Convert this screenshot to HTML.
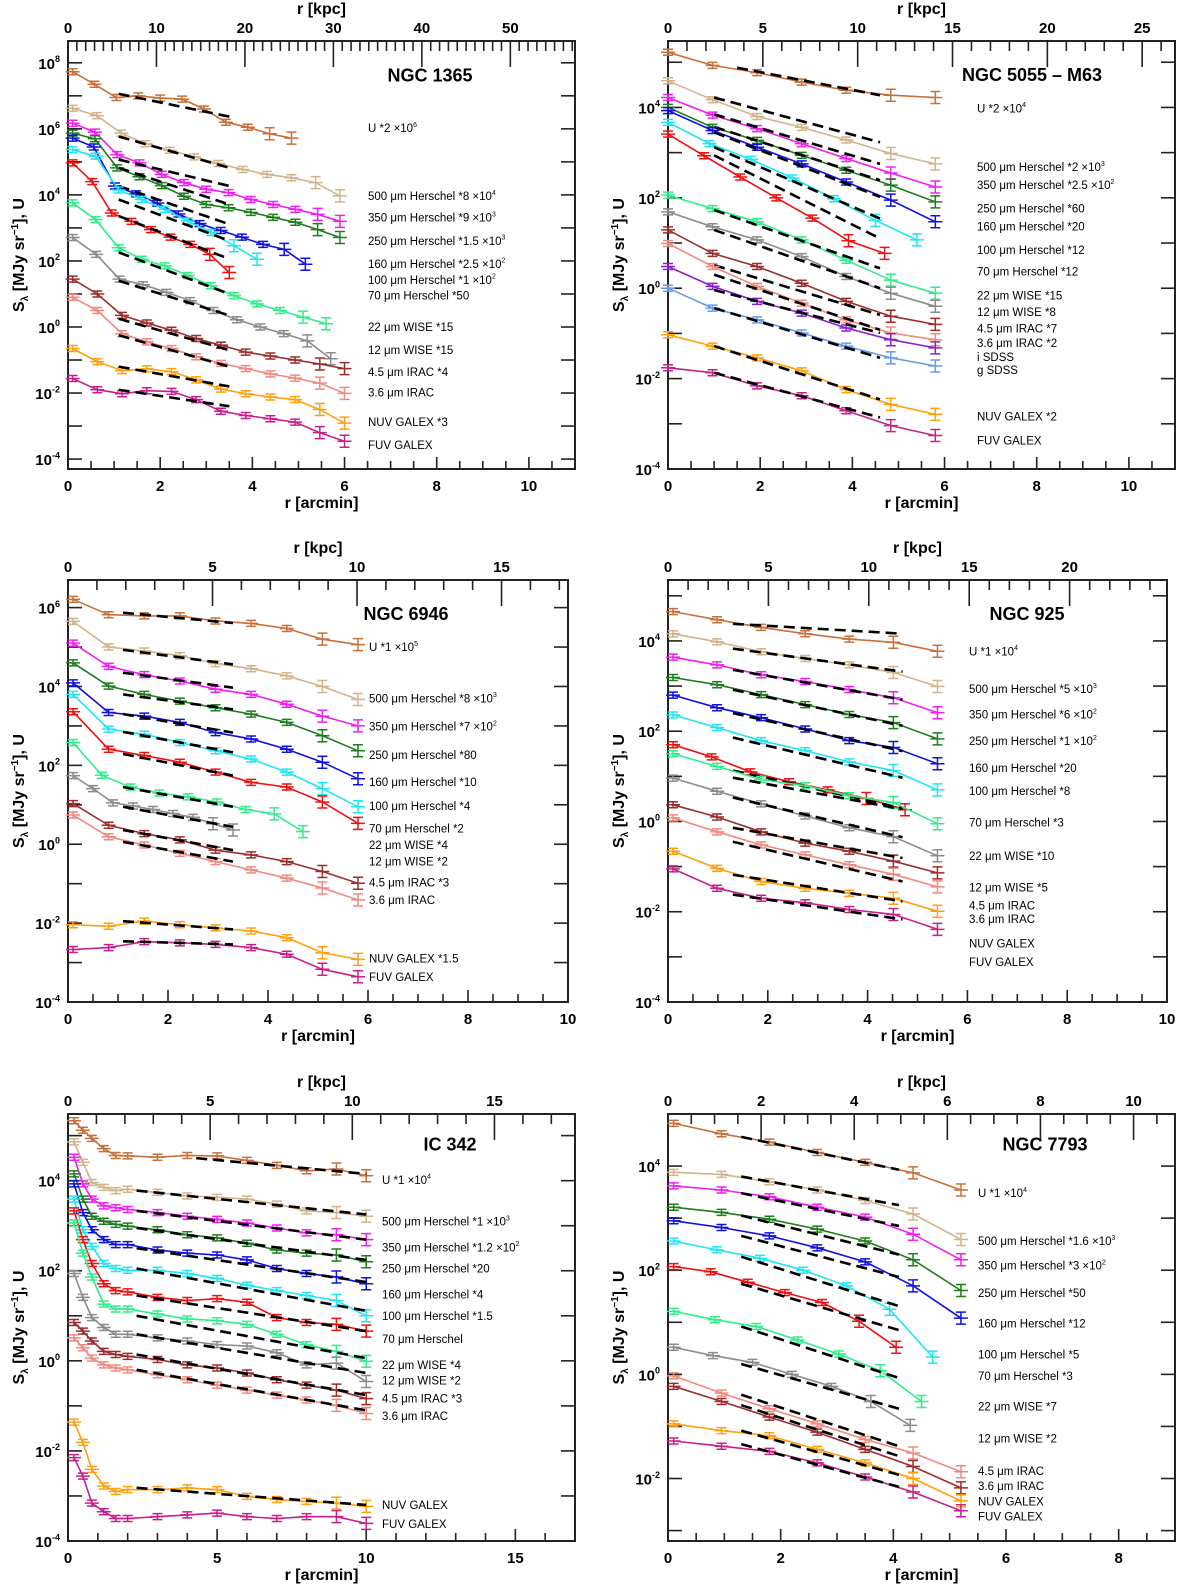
<!DOCTYPE html>
<html><head><meta charset="utf-8"><title>Radial profiles</title>
<style>
html,body{margin:0;padding:0;background:#fff;}
svg{display:block;font-family:"Liberation Sans",Arial,sans-serif;}
</style></head>
<body>
<svg id="fig" xmlns="http://www.w3.org/2000/svg" width="1200" height="1594" viewBox="0 0 1200 1594"></svg>
<script>
const COL={U:'#c8703a',B500:'#d2b48c',B350:'#f01ef0',B250:'#1e7d1e',B160:'#1010e0',B100:'#20e6f0',B70:'#f01010',B22:'#30ee8a',B12:'#8c8c8c',I45:'#9b2d2d',I36:'#f08a80',iS:'#8a20d0',gS:'#6a9ae8',NUV:'#ffa010',FUV:'#c8208a'};

/* ---------- NGC 1365 ---------- */
const P1_bands=['U','B500','B350','B250','B160','B100','B70','B22','B12','I45','I36','NUV','FUV'];
const P1_span=[[0.1,4.85],[0.1,5.9],[0.1,5.9],[0.1,5.9],[0.1,5.15],[0.1,4.1],[0.1,3.5],[0.1,5.6],[0.1,5.7],[0.1,6],[0.1,6],[0.1,6],[0.1,6]];
const P1_logS=[[7.73,7.35,6.95,7.0,6.93,6.9,6.6,6.2,6.05,5.85,5.72],[6.62,6.4,5.87,5.55,5.35,5.15,4.95,4.77,4.62,4.52,4.37,3.97],[6.17,5.9,5.22,4.97,4.62,4.37,4.17,4.07,3.86,3.71,3.56,3.41,3.2],[5.87,5.7,4.82,4.55,4.28,3.96,3.71,3.61,3.47,3.32,3.17,2.95,2.71],[5.72,5.45,4.27,4.03,3.75,3.42,3.13,2.92,2.72,2.5,2.35,1.9],[5.37,5.17,4.15,3.86,3.56,3.21,2.86,2.46,2.05],[4.97,4.4,3.45,3.2,2.95,2.72,2.5,2.2,1.65],[3.76,3.25,2.4,2.05,1.85,1.56,1.25,0.95,0.7,0.5,0.3,0.1],[2.71,2.2,1.45,1.28,1.05,0.8,0.5,0.22,0.0,-0.2,-0.42,-0.96],[1.45,1.0,0.35,0.12,-0.1,-0.35,-0.55,-0.76,-0.88,-1.0,-1.12,-1.26],[0.9,0.5,-0.2,-0.45,-0.65,-0.9,-1.1,-1.26,-1.42,-1.55,-1.7,-2.01],[-0.65,-1.05,-1.32,-1.27,-1.35,-1.6,-1.88,-2.02,-2.12,-2.2,-2.5,-2.91],[-1.56,-1.9,-2.02,-1.93,-1.95,-2.2,-2.55,-2.68,-2.78,-2.88,-3.2,-3.46]];
const P1_fits=[[1.1,3.5,7.06,6.37],[1.1,3.5,5.77,4.82],[1.1,3.5,5.07,4.27],[1.1,3.5,4.82,3.71],[1.1,3.5,4.27,3.11],[1.1,3.5,3.86,2.61],[1.1,3.5,3.36,2.06],[1.1,3.5,2.26,1.0],[1.1,3.5,1.4,0.35],[1.1,3.5,0.25,-0.7],[1.1,3.5,-0.25,-1.2],[1.1,3.5,-1.2,-1.8],[1.1,3.5,-1.9,-2.4]];
const P1_labels=['U *2 ×10^6','500 μm Herschel *8 ×10^4','350 μm Herschel *9 ×10^3','250 μm Herschel *1.5 ×10^3','160 μm Herschel *2.5 ×10^2','100 μm Herschel *1 ×10^2','70 μm Herschel *50','22 μm WISE *15','12 μm WISE *15','4.5 μm IRAC *4','3.6 μm IRAC','NUV GALEX *3','FUV GALEX'];
const P1_labelY=[6.02,3.96,3.31,2.61,1.91,1.43,0.95,0.0,-0.70,-1.36,-1.99,-2.88,-3.57];

/* ---------- NGC 5055 ---------- */
const P2_bands=['U','B500','B350','B250','B160','B100','B70','B22','B12','I45','I36','iS','gS','NUV','FUV'];
const P2_span=[[0,5.8],[0,5.8],[0,5.8],[0,5.8],[0,5.8],[0,5.4],[0,4.7],[0,5.8],[0,5.8],[0,5.8],[0,5.8],[0,5.8],[0,5.8],[0,5.8],[0,5.8]];
const P2_logS=[[5.22,4.93,4.77,4.56,4.38,4.27,4.22],[4.59,4.17,3.8,3.56,3.28,2.98,2.75],[4.22,3.83,3.53,3.2,2.87,2.55,2.24],[4.0,3.56,3.27,2.94,2.61,2.28,1.91],[3.93,3.49,3.12,2.75,2.35,1.95,1.47],[3.67,3.2,2.85,2.44,1.98,1.5,1.07],[3.41,2.93,2.46,2.0,1.55,1.05,0.77],[2.06,1.76,1.47,1.07,0.62,0.18,-0.11],[1.69,1.36,1.07,0.7,0.26,-0.11,-0.4],[1.29,0.77,0.48,0.11,-0.29,-0.62,-0.8],[0.99,0.48,0.04,-0.33,-0.7,-0.99,-1.14],[0.48,0.04,-0.29,-0.55,-0.88,-1.14,-1.32],[0.0,-0.44,-0.7,-0.99,-1.28,-1.54,-1.72],[-1.03,-1.28,-1.54,-1.83,-2.24,-2.57,-2.79],[-1.76,-1.87,-2.16,-2.38,-2.71,-3.04,-3.26]];
const P2_fits=[[1.5,4.6,4.88,4.27],[1,4.6,4.22,3.23],[1,4.6,3.85,2.75],[1,4.6,3.57,2.39],[1,4.6,3.45,2.02],[1,4.6,3.12,1.54],[1,4.6,2.94,1.1],[1,4.6,1.73,0.44],[1,4.6,1.29,0.0],[1,4.6,0.51,-0.59],[1,4.6,0.3,-0.92],[1,4.6,-0.04,-0.99],[1,4.6,-0.44,-1.54],[1,4.6,-1.28,-2.46],[1,4.6,-1.87,-2.86]];
const P2_labels=['U *2 ×10^4','500 μm Herschel *2 ×10^3','350 μm Herschel *2.5 ×10^2','250 μm Herschel *60','160 μm Herschel *20','100 μm Herschel *12','70 μm Herschel *12','22 μm WISE *15','12 μm WISE *8','4.5 μm IRAC *7','3.6 μm IRAC *2','i SDSS','g SDSS','NUV GALEX *2','FUV GALEX'];
const P2_labelY=[3.98,2.68,2.28,1.76,1.37,0.85,0.37,-0.16,-0.53,-0.89,-1.21,-1.52,-1.81,-2.84,-3.37];

/* ---------- NGC 6946 ---------- */
const P3_bands=['U','B500','B350','B250','B160','B100','B70','B22','B12','I45','I36','NUV','FUV'];
const P3_span=[[0.1,5.8],[0.1,5.8],[0.1,5.8],[0.1,5.8],[0.1,5.8],[0.1,5.8],[0.1,5.8],[0.1,4.7],[0.1,3.3],[0.1,5.8],[0.1,5.8],[0.1,5.8],[0.1,5.8]];
const P3_logS=[[6.21,5.82,5.79,5.79,5.66,5.6,5.47,5.2,5.06],[5.65,5.0,4.9,4.78,4.58,4.45,4.27,4.0,3.67],[5.1,4.51,4.3,4.14,3.93,3.8,3.55,3.25,3.0],[4.6,4.01,3.8,3.63,3.46,3.3,3.09,2.75,2.37],[4.09,3.34,3.25,3.09,2.83,2.67,2.41,2.08,1.66],[3.8,2.92,2.79,2.58,2.37,2.16,1.83,1.41,0.95],[3.36,2.41,2.25,2.08,1.83,1.57,1.45,1.07,0.53],[2.58,1.75,1.45,1.3,1.2,1.07,0.88,0.77,0.32],[1.74,1.41,1.05,0.97,0.88,0.78,0.68,0.52,0.36],[1.03,0.48,0.27,0.11,-0.15,-0.27,-0.44,-0.69,-0.99],[0.74,0.19,-0.02,-0.23,-0.44,-0.65,-0.86,-1.11,-1.41],[-2.04,-2.08,-1.95,-2.04,-2.12,-2.2,-2.37,-2.75,-2.92],[-2.67,-2.62,-2.47,-2.5,-2.54,-2.62,-2.79,-3.17,-3.36]];
const P3_fits=[[1.1,3.3,5.87,5.61],[1.1,3.3,4.93,4.56],[1.1,3.3,4.35,3.97],[1.1,3.3,3.8,3.42],[1.1,3.3,3.3,2.83],[1.1,3.3,2.85,2.33],[1.1,3.3,2.29,1.74],[1.1,3.3,1.45,0.95],[1.1,3.3,0.95,0.44],[1.1,3.3,0.36,-0.15],[1.1,3.3,0.06,-0.44],[1.1,3.3,-1.95,-2.16],[1.1,3.3,-2.46,-2.54]];
const P3_labels=['U *1 ×10^5','500 μm Herschel *8 ×10^3','350 μm Herschel *7 ×10^2','250 μm Herschel *80','160 μm Herschel *10','100 μm Herschel *4','70 μm Herschel *2','22 μm WISE *4','12 μm WISE *2','4.5 μm IRAC *3','3.6 μm IRAC','NUV GALEX *1.5','FUV GALEX'];
const P3_labelY=[5.0,3.70,2.98,2.26,1.58,0.97,0.40,-0.02,-0.44,-0.97,-1.42,-2.90,-3.36];

/* ---------- NGC 925 ---------- */
const P4_bands=['U','B500','B350','B250','B160','B100','B70','B22','B12','I45','I36','NUV','FUV'];
const P4_span=[[0.1,5.4],[0.1,5.4],[0.1,5.4],[0.1,5.4],[0.1,5.4],[0.1,5.4],[0.1,4.75],[0.1,5.4],[0.1,5.4],[0.1,5.4],[0.1,5.4],[0.1,5.4],[0.1,5.4]];
const P4_logS=[[4.65,4.47,4.3,4.16,4.04,3.97,3.77],[4.16,3.98,3.76,3.61,3.47,3.3,2.99],[3.64,3.47,3.25,3.1,2.92,2.74,2.41],[3.19,3.03,2.81,2.59,2.37,2.19,1.83],[2.8,2.52,2.3,2.05,1.79,1.64,1.28],[2.36,2.08,1.79,1.57,1.32,1.13,0.7],[1.7,1.43,1.1,0.88,0.7,0.51,0.26],[1.5,1.22,0.93,0.79,0.57,0.42,-0.05],[0.96,0.67,0.39,0.12,-0.14,-0.34,-0.76],[0.37,0.1,-0.23,-0.48,-0.66,-0.88,-1.14],[0.08,-0.23,-0.52,-0.74,-0.96,-1.17,-1.45],[-0.66,-1.04,-1.33,-1.48,-1.59,-1.7,-1.99],[-1.05,-1.48,-1.7,-1.8,-1.95,-2.06,-2.39]];
const P4_fits=[[1.3,4.7,4.38,4.16],[1.3,4.7,3.83,3.32],[1.3,4.7,3.36,2.7],[1.3,4.7,2.92,2.12],[1.3,4.7,2.4,1.56],[1.3,4.7,1.86,0.97],[1.3,4.7,1.13,0.29],[1.3,4.7,0.97,0.27],[1.3,4.7,0.53,-0.35],[1.3,4.7,-0.14,-0.81],[1.3,4.7,-0.45,-1.33],[1.3,4.7,-1.18,-1.77],[1.3,4.7,-1.62,-2.17]];
const P4_labels=['U *1 ×10^4','500 μm Herschel *5 ×10^3','350 μm Herschel *6 ×10^2','250 μm Herschel *1 ×10^2','160 μm Herschel *20','100 μm Herschel *8','70 μm Herschel *3','22 μm WISE *10','12 μm WISE *5','4.5 μm IRAC','3.6 μm IRAC','NUV GALEX','FUV GALEX'];
const P4_labelY=[3.77,2.93,2.37,1.78,1.18,0.68,-0.02,-0.76,-1.46,-1.86,-2.16,-2.70,-3.11];

/* ---------- IC 342 ---------- */
const P5_bands=['U','B500','B350','B250','B160','B100','B70','B22','B12','I45','I36','NUV','FUV'];
const P5_r=[0.2,0.5,0.8,1.2,1.6,2,3,4,5,6,7,8,9,10];
const P5_logS=[[5.33,5.12,4.94,4.71,4.56,4.55,4.52,4.56,4.55,4.45,4.34,4.22,4.26,4.11],[4.86,4.41,3.96,3.85,3.78,3.81,3.74,3.66,3.63,3.59,3.48,3.33,3.29,3.21],[4.52,3.93,3.59,3.44,3.4,3.36,3.29,3.21,3.14,3.06,2.95,2.84,2.8,2.69],[4.15,3.59,3.21,3.1,3.03,2.99,2.91,2.8,2.73,2.61,2.46,2.39,2.35,2.2],[3.93,3.29,2.91,2.69,2.58,2.58,2.46,2.39,2.35,2.24,2.05,1.94,1.86,1.71],[3.59,2.91,2.54,2.16,2.05,2.01,2.01,1.94,1.83,1.68,1.56,1.45,1.34,1.0],[3.33,2.69,2.16,1.71,1.56,1.53,1.41,1.34,1.38,1.3,0.96,0.85,0.81,0.66],[3.06,2.39,1.86,1.26,1.15,1.15,1.04,0.93,0.89,0.81,0.59,0.36,0.21,-0.01],[1.94,1.41,0.96,0.74,0.59,0.59,0.51,0.44,0.36,0.33,0.18,-0.09,-0.05,-0.46],[0.85,0.66,0.44,0.21,0.14,0.1,0.03,-0.09,-0.16,-0.27,-0.42,-0.54,-0.65,-0.84],[0.51,0.29,0.06,-0.09,-0.16,-0.2,-0.31,-0.42,-0.54,-0.65,-0.76,-0.87,-0.99,-1.17],[-1.36,-1.81,-2.41,-2.78,-2.9,-2.86,-2.86,-2.82,-2.86,-3.01,-3.08,-3.12,-3.16,-3.23],[-2.15,-2.56,-3.16,-3.35,-3.5,-3.5,-3.46,-3.42,-3.38,-3.46,-3.5,-3.46,-3.46,-3.61]];
const P5_fits=[[4.3,10,4.5,4.15],[2.3,10,3.78,3.25],[2.3,10,3.33,2.69],[2.3,10,2.95,2.24],[2.3,10,2.5,1.75],[2.3,10,2.05,1.11],[2.3,10,1.45,0.66],[2.3,10,1.0,0.06],[2.3,10,0.59,-0.27],[2.3,10,0.14,-0.76],[2.3,10,-0.2,-1.1],[2.3,10,-2.82,-3.2],null];
const P5_labels=['U *1 ×10^4','500 μm Herschel *1 ×10^3','350 μm Herschel *1.2 ×10^2','250 μm Herschel *20','160 μm Herschel *4','100 μm Herschel *1.5','70 μm Herschel','22 μm WISE *4','12 μm WISE *2','4.5 μm IRAC *3','3.6 μm IRAC','NUV GALEX','FUV GALEX'];
const P5_labelY=[4.02,3.09,2.52,2.05,1.47,0.99,0.49,-0.09,-0.44,-0.84,-1.22,-3.20,-3.62];

/* ---------- NGC 7793 ---------- */
const P6_bands=['U','B500','B350','B250','B160','B100','B70','B22','B12','I36','I45','NUV','FUV'];
const P6_span=[[0.1,5.2],[0.1,5.2],[0.1,5.2],[0.1,5.2],[0.1,5.2],[0.1,4.7],[0.1,4.05],[0.1,4.5],[0.1,4.3],[0.1,5.2],[0.1,5.2],[0.1,5.2],[0.1,5.2]];
const P6_logS=[[4.82,4.62,4.46,4.26,4.07,3.87,3.54],[3.88,3.84,3.7,3.54,3.34,3.08,2.59],[3.62,3.54,3.41,3.21,3.02,2.69,2.2],[3.21,3.11,2.98,2.79,2.56,2.2,1.61],[2.95,2.82,2.66,2.43,2.16,1.7,1.08],[2.56,2.39,2.23,2.0,1.7,1.25,0.33],[2.07,1.97,1.77,1.57,1.38,1.02,0.52],[1.21,1.05,0.92,0.66,0.39,0.07,-0.52],[0.52,0.36,0.23,0.0,-0.23,-0.52,-0.98],[-0.03,-0.36,-0.66,-0.95,-1.25,-1.51,-1.87],[-0.23,-0.52,-0.82,-1.11,-1.44,-1.77,-2.18],[-0.95,-1.08,-1.18,-1.44,-1.7,-2.0,-2.43],[-1.28,-1.38,-1.48,-1.7,-1.97,-2.26,-2.62]];
const P6_fits=[[1.3,4.1,4.56,3.93],[1.3,4.1,3.8,3.25],[1.3,4.1,3.48,2.85],[1.3,4.1,3.05,2.3],[1.3,4.1,2.66,1.87],[1.3,4.1,2.26,1.31],[1.3,4.1,1.74,0.85],[1.3,4.1,0.92,-0.07],[1.3,4.1,0.2,-0.66],[1.3,4.1,-0.39,-1.38],[1.3,4.1,-0.59,-1.57],[1.3,4.1,-1.08,-1.93],[1.3,4.1,-1.34,-2.16]];
const P6_labels=['U *1 ×10^4','500 μm Herschel *1.6 ×10^3','350 μm Herschel *3 ×10^2','250 μm Herschel *50','160 μm Herschel *12','100 μm Herschel *5','70 μm Herschel *3','22 μm WISE *7','12 μm WISE *2','4.5 μm IRAC','3.6 μm IRAC','NUV GALEX','FUV GALEX'];
const P6_labelY=[3.48,2.56,2.09,1.56,0.98,0.38,-0.03,-0.62,-1.23,-1.86,-2.14,-2.44,-2.73];

const NAMES=['NGC 1365','NGC 5055 – M63','NGC 6946','NGC 925','IC 342','NGC 7793'];
const TITLE_LOG=[7.61,4.72,5.84,4.60,4.80,4.41];

const LAYOUT=[
 {id:'ngc1365',L:68,R:575,T:41,B:469,xmax:11,ymin:-4.3,ymax:8.66,k:5.21,kMaj:10,kMin:1,xMaj:2,xMin:0.5,lx:368,tx:430,bands:P1_bands,span:P1_span,S:P1_logS,fits:P1_fits,labels:P1_labels,ly:P1_labelY},
 {id:'ngc5055',L:668,R:1175,T:41,B:469,xmax:11,ymin:-4,ymax:5.47,k:2.43,kMaj:5,kMin:1,xMaj:2,xMin:0.5,lx:977,tx:1032,bands:P2_bands,span:P2_span,S:P2_logS,fits:P2_fits,labels:P2_labels,ly:P2_labelY},
 {id:'ngc6946',L:68,R:568,T:580,B:1002,xmax:10,ymin:-4,ymax:6.7,k:1.73,kMaj:5,kMin:1,xMaj:2,xMin:0.5,lx:369,tx:406,bands:P3_bands,span:P3_span,S:P3_logS,fits:P3_fits,labels:P3_labels,ly:P3_labelY},
 {id:'ngc925',L:668,R:1167,T:580,B:1002,xmax:10,ymin:-4,ymax:5.35,k:2.485,kMaj:5,kMin:1,xMaj:2,xMin:0.5,lx:969,tx:1027,bands:P4_bands,span:P4_span,S:P4_logS,fits:P4_fits,labels:P4_labels,ly:P4_labelY},
 {id:'ic342',L:68,R:575,T:1114,B:1541,xmax:17,ymin:-4,ymax:5.48,k:1.049,kMaj:5,kMin:1,xMaj:5,xMin:1,lx:382,tx:450,bands:P5_bands,r:P5_r,S:P5_logS,fits:P5_fits,labels:P5_labels,ly:P5_labelY},
 {id:'ngc7793',L:668,R:1175,T:1114,B:1541,xmax:9,ymin:-3.2,ymax:5.0,k:1.21,kMaj:2,kMin:0.5,xMaj:2,xMin:0.5,lx:978,tx:1045,bands:P6_bands,span:P6_span,S:P6_logS,fits:P6_fits,labels:P6_labels,ly:P6_labelY}
];

const NS='http://www.w3.org/2000/svg';
const svg=document.getElementById('fig');
function el(tag,attrs,parent){const e=document.createElementNS(NS,tag);for(const k in attrs)e.setAttribute(k,attrs[k]);parent.appendChild(e);return e;}
function supText(parent,x,y,str,size,anchor,weight){
  const t=el('text',{x:x,y:y,'font-size':size,'text-anchor':anchor,'font-weight':weight,fill:'#000'},parent);
  const parts=str.split('^');
  const a=document.createElementNS(NS,'tspan');a.textContent=parts[0];t.appendChild(a);
  if(parts.length>1){const b=document.createElementNS(NS,'tspan');b.setAttribute('dy',-size*0.45);b.setAttribute('font-size',size*0.6);b.textContent=parts[1];t.appendChild(b);}
  return t;
}

LAYOUT.forEach((P,pi)=>{
  const g=el('g',{},svg);
  
  
  const X=v=>P.L+(v/P.xmax)*(P.R-P.L);
  const Y=v=>P.B-(v-P.ymin)/(P.ymax-P.ymin)*(P.B-P.T);
  const kmax=P.xmax*P.k;
  const KX=v=>P.L+(v/kmax)*(P.R-P.L);
  const tg=el('g',{stroke:'#222','stroke-width':1.6},g);
  
  
  for(let v=0;v<=P.xmax+1e-9;v+=P.xMin){
    const maj=Math.abs(v/P.xMaj-Math.round(v/P.xMaj))<1e-6;
    const L=maj?12:8;
    el('line',{x1:X(v),x2:X(v),y1:P.B,y2:P.B-L},tg);
  }
  for(let v=0;v<=kmax+1e-9;v+=P.kMin){
    const maj=Math.abs(v/P.kMaj-Math.round(v/P.kMaj))<1e-6;
    const L=maj?26:10;
    el('line',{x1:KX(v),x2:KX(v),y1:P.T,y2:P.T+L},tg);
  }
  for(let d=Math.ceil(P.ymin);d<=Math.floor(P.ymax);d++){
    el('line',{x1:P.L,x2:P.L+14,y1:Y(d),y2:Y(d)},tg);
    el('line',{x1:P.R,x2:P.R-14,y1:Y(d),y2:Y(d)},tg);
  }
  const frame=el('rect',{x:P.L,y:P.T,width:P.R-P.L,height:P.B-P.T,fill:'none',stroke:'#222','stroke-width':2},g);
  
  
  for(let v=0;v<=P.xmax+1e-9;v+=P.xMaj){
    const t=el('text',{x:X(v),y:P.B+22,'font-size':15,'font-weight':'bold','text-anchor':'middle'},g);
    t.textContent=String(Math.round(v));
    
    
  }
  for(let v=0;v<=kmax+1e-9;v+=P.kMaj){
    const t=el('text',{x:KX(v),y:P.T-8,'font-size':15,'font-weight':'bold','text-anchor':'middle'},g);
    t.textContent=String(Math.round(v));
    
    
  }
  for(let d=Math.ceil(P.ymin);d<=Math.floor(P.ymax);d++){
    if(d%2!==0)continue;
    const t=supText(g,P.L-8,Y(d)+6,'10^'+d,15,'end','bold');
    
    
  }
  const xt=el('text',{x:(P.L+P.R)/2,y:P.B+39,'font-size':16,'font-weight':'bold','text-anchor':'middle'},g);
  xt.textContent='r [arcmin]';
  
  
  const kt=el('text',{x:(P.L+P.R)/2,y:P.T-27,'font-size':16,'font-weight':'bold','text-anchor':'middle'},g);
  kt.textContent='r [kpc]';
  
  
  const yc=(P.T+P.B)/2, yx=P.L-44;
  const yt=el('text',{x:yx,y:yc,'font-size':16,'font-weight':'bold','text-anchor':'middle',transform:'rotate(-90 '+yx+' '+yc+')'},g);
  
  
  [['S',{}],['λ',{'font-size':10,dy:4}],[' [MJy sr',{dy:-4}],['−1',{'font-size':10,dy:-6}],['], U',{dy:6}]].forEach(([s,a])=>{const sp=document.createElementNS(NS,'tspan');for(const k in a)sp.setAttribute(k,a[k]);sp.textContent=s;yt.appendChild(sp);});
  const tt=el('text',{x:P.tx,y:Y(TITLE_LOG[pi])+6,'font-size':18,'font-weight':'bold','text-anchor':'middle'},g);
  tt.textContent=NAMES[pi];
  
  
  P.S.forEach((vals,si)=>{
    const col=COL[P.bands[si]];
    const sg=el('g',{stroke:col,fill:'none'},g);
    
    
    const xs=vals.map((v,i)=>P.r?P.r[i]:P.span[si][0]+(P.span[si][1]-P.span[si][0])*i/(vals.length-1));
    const pts=vals.map((v,i)=>X(xs[i]).toFixed(1)+','+Y(v).toFixed(1)).join(' ');
    const pl=el('polyline',{points:pts,'stroke-width':1.6},sg);
    
    
    vals.forEach((v,i)=>{
      const px=X(xs[i]),py=Y(v);
      const e=(i>=vals.length-2)?6:3;
      const eb=el('path',{d:`M${px-7},${py}H${px+7}M${px},${py-e}V${py+e}M${px-5},${py-e}H${px+5}M${px-5},${py+e}H${px+5}`,'stroke-width':1.5},sg);
      
      
    });
    const f=P.fits[si];
    if(f){
      const fl=el('line',{x1:X(f[0]),y1:Y(f[2]),x2:X(f[1]),y2:Y(f[3]),stroke:'#000','stroke-width':2.6,'stroke-dasharray':'11,6'},g);
      
      
    }
  });
  P.labels.forEach((s,li)=>{
    const t=supText(g,P.lx,Y(P.ly[li])+4,s,11.5,'start','normal');
    
    
  });
});
</script>
</body></html>
